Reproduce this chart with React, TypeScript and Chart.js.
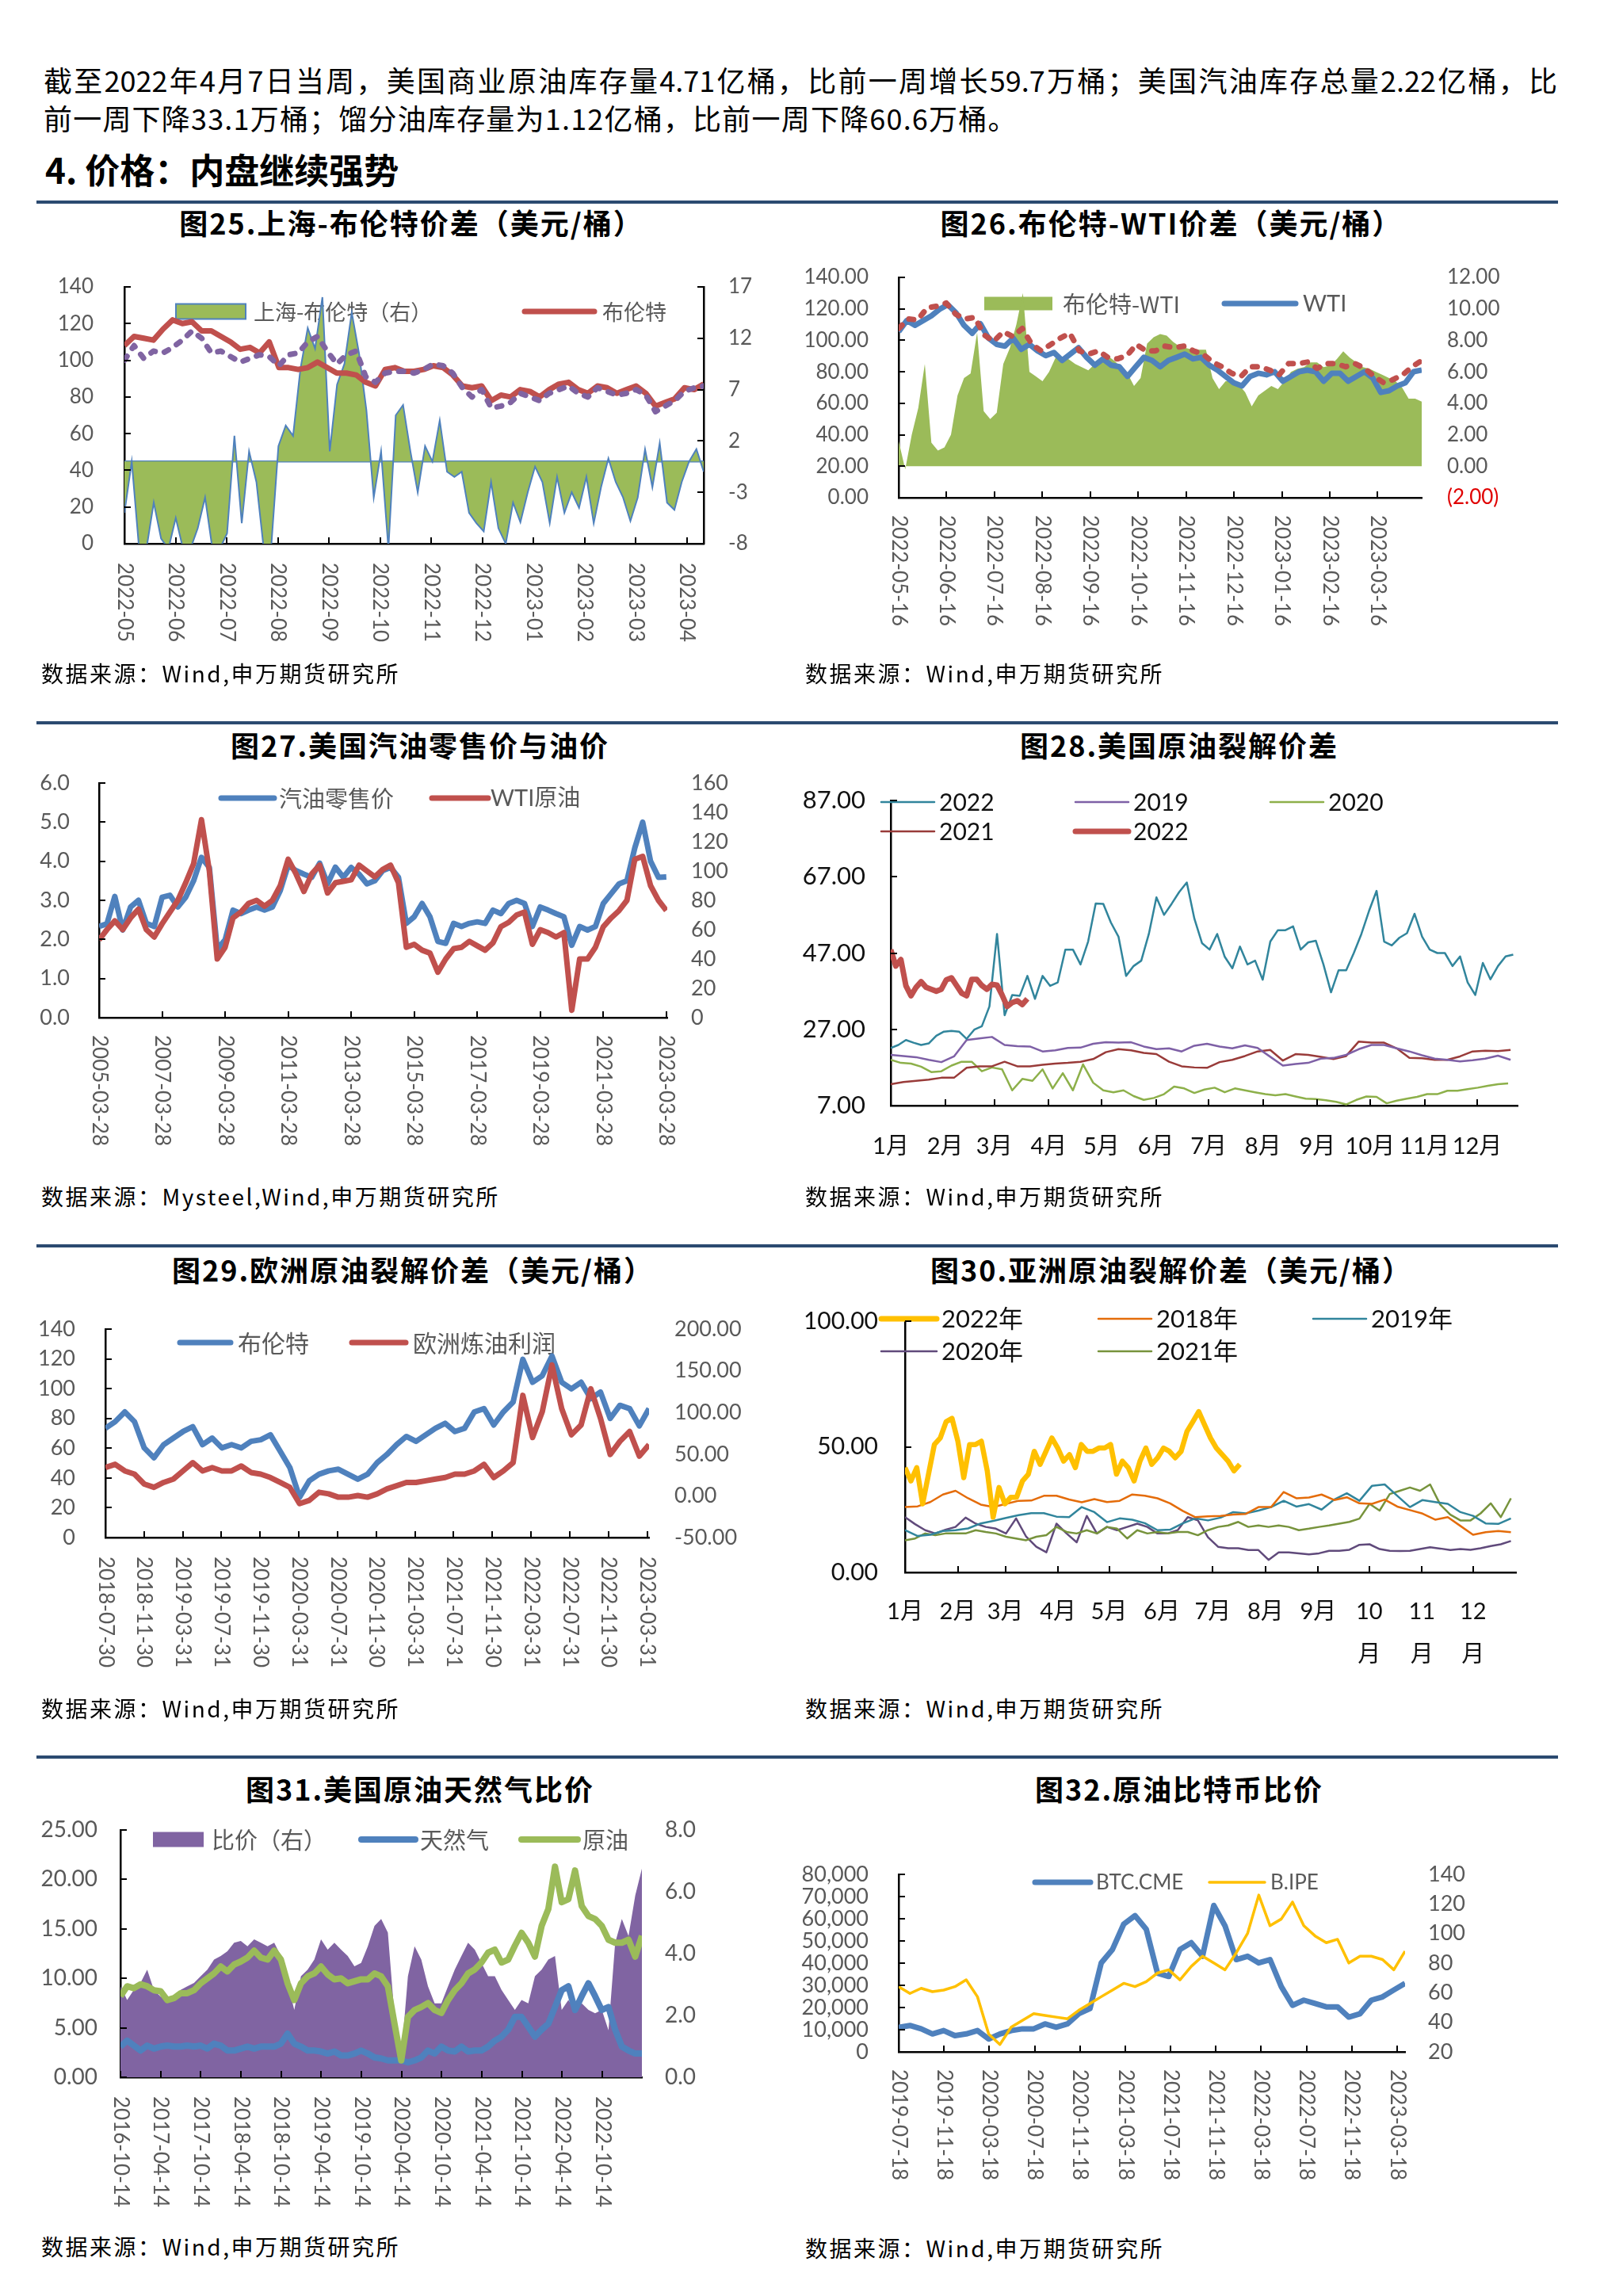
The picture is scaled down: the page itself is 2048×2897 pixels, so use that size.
import React, { useEffect, useRef } from "react";
import { Chart, registerables } from "chart.js";

Chart.register(...registerables);

const NUM = "Lato, 'Noto Sans CJK SC', sans-serif";
const CJK = "'Noto Sans CJK SC', Lato, sans-serif";

// ---------------- 图25 上海-布伦特价差 ----------------
const c25Ticks = [0, 1, 2, 3, 4, 5, 6, 7, 8, 9, 10, 11];
const c25Labels = ["2022-05", "2022-06", "2022-07", "2022-08", "2022-09", "2022-10", "2022-11", "2022-12", "2023-01", "2023-02", "2023-03", "2023-04"];
const c25Brent = [108, 113, 112, 111, 117, 122, 120, 121, 116, 116, 113, 110, 106, 107, 104, 110, 96, 96, 95, 96, 99, 96, 93, 93, 92, 88, 86, 95, 96, 94, 94, 95, 97, 96, 92, 86, 85, 86, 78, 81, 80, 84, 83, 80, 84, 87, 88, 84, 82, 86, 85, 82, 84, 86, 82, 75, 77, 79, 85, 84, 87];
const c25SC = [100, 108, 101, 105, 104, 107, 111, 116, 112, 104, 105, 102, 99, 101, 103, 102, 97, 103, 104, 110, 113, 105, 98, 103, 105, 91, 88, 93, 94, 94, 93, 95, 98, 97, 93, 85, 80, 84, 74, 75, 77, 82, 80, 78, 82, 84, 86, 82, 80, 85, 83, 81, 82, 84, 81, 72, 75, 78, 83, 85, 86];
const c25Spread = [-5, 0, -8.5, -8.5, -4, -7.5, -8.5, -5.5, -8.5, -8.5, -6.5, -3.5, -8.5, -8.5, -7, 2.5, -6, 1.0, -2, -8.5, -8.5, 1.5, 3.5, 2.5, 9, 13, 11, 16, 1, 7.5, 9.5, 14.5, 10.5, 5, -3.5, 1, -8.5, 4.5, 5.5, 1, -3, 1.5, 0, 4, -1, -1.5, -1, -5, -6, -6.8, -2, -6.5, -8, -4, -5.9, -3, -0.5, -2, -6, -1.5, -5, -3, -4.5, -1.5, -6, -2.5, 0.3, -2, -3.5, -5.8, -3.5, 1.2, -2.5, 1.8, -4, -4.7, -2, 0, 1.2, -1];

// ---------------- 图26 布伦特-WTI价差 ----------------
const c26Ticks = [0, 1, 2, 3, 4, 5, 6, 7, 8, 9, 10];
const c26Labels = ["2022-05-16", "2022-06-16", "2022-07-16", "2022-08-16", "2022-09-16", "2022-10-16", "2022-11-16", "2022-12-16", "2023-01-16", "2023-02-16", "2023-03-16"];
const c26WTI = [105.5, 112.6, 109.5, 112.6, 115.6, 119.7, 122.7, 117.6, 109.5, 104.5, 110.5, 101.4, 97.4, 96.3, 101.4, 94.3, 97.4, 93.3, 90.3, 92.3, 87.2, 91.3, 95.3, 89.2, 84.2, 88.2, 84.2, 83.2, 77.1, 83.2, 89.2, 87.2, 83.2, 87.2, 89.2, 91.3, 88.2, 89.2, 84.2, 81.1, 77.1, 73.0, 71.0, 77.1, 79.1, 78.1, 80.1, 74.0, 77.1, 80.1, 81.1, 80.1, 74.0, 79.1, 79.1, 74.0, 77.1, 80.1, 76.1, 66.9, 68.0, 71.0, 73.0, 80.1, 81.1];
const c26Brent = [107.5, 113.6, 113, 120.7, 121.7, 123.7, 116.6, 113.6, 114.6, 103.4, 99.4, 105.5, 102.4, 107.5, 97.4, 93.3, 97.4, 101.4, 104.5, 93.3, 91.3, 93.3, 89.2, 88.2, 90.3, 97.4, 93.3, 93.3, 96.3, 95.3, 96.3, 93.3, 91.3, 86.2, 83.2, 79.1, 77.1, 83.2, 83.2, 81.1, 78.1, 85.2, 85.2, 86.2, 82.2, 85.2, 85.2, 83.2, 85.2, 82.2, 77.1, 73.0, 75.1, 78.1, 83.2, 87.2];
const c26Spread = [1.6, -0.2, 2.0, 3.7, 6.5, 1.5, 1.0, 1.2, 2.0, 4.5, 5.6, 5.9, 8.5, 3.5, 3.0, 3.4, 6.5, 7.5, 9.0, 11.0, 6.0, 5.7, 5.4, 6.0, 6.9, 6.9, 6.8, 6.5, 6.3, 6.1, 6.5, 6.9, 7.0, 6.7, 6.3, 5.9, 5.1, 5.6, 7.8, 8.2, 8.4, 8.3, 7.9, 7.6, 7.5, 7.4, 7.4, 7.4, 5.6, 4.9, 5.4, 5.4, 5.2, 4.7, 3.8, 4.5, 4.8, 5.1, 4.9, 5.4, 6.0, 6.2, 6.3, 6.6, 6.6, 6.3, 6.4, 6.8, 7.3, 6.9, 6.6, 6.3, 6.2, 6.0, 5.8, 5.6, 5.4, 5.0, 4.3, 4.3, 4.1];

// ---------------- 图27 美国汽油零售价与油价 ----------------
const c27Ticks = [0, 2, 4, 6, 8, 10, 12, 14, 16, 18];
const c27Labels = ["2005-03-28", "2007-03-28", "2009-03-28", "2011-03-28", "2013-03-28", "2015-03-28", "2017-03-28", "2019-03-28", "2021-03-28", "2023-03-28"];
const c27Gas = [2.33, 2.4, 3.1, 2.24, 2.83, 3.0, 2.41, 2.33, 3.08, 3.13, 2.83, 3.08, 3.5, 4.1, 3.84, 1.75, 1.99, 2.75, 2.66, 2.75, 2.83, 2.75, 2.83, 3.25, 3.9, 3.76, 3.67, 3.59, 3.95, 3.42, 3.85, 3.59, 3.84, 3.67, 3.42, 3.5, 3.76, 3.84, 3.59, 2.41, 2.58, 2.92, 2.58, 1.95, 1.9, 2.41, 2.33, 2.41, 2.45, 2.41, 2.75, 2.66, 2.92, 3.0, 2.92, 2.33, 2.83, 2.75, 2.66, 2.58, 1.85, 2.33, 2.24, 2.33, 2.92, 3.17, 3.42, 3.5, 4.34, 5.0, 4.0, 3.59, 3.6];
const c27WTI = [53, 60, 66, 60, 68, 74, 60, 55, 64, 72, 80, 92, 105, 135, 100, 40, 48, 68, 72, 78, 80, 76, 80, 90, 108, 98, 86, 98, 104, 85, 92, 93, 94, 104, 100, 96, 101, 104, 92, 48, 50, 46, 44, 31, 40, 47, 48, 52, 49, 46, 51, 62, 65, 70, 72, 50, 60, 58, 55, 58, 5, 40, 40, 48, 62, 68, 73, 80, 108, 110, 90, 80, 73];

// ---------------- 图28 美国原油裂解价差 ----------------
const c28Ticks = [0, 31, 59, 90, 120, 151, 181, 212, 243, 273, 304, 334];
const c28Labels = ["1月", "2月", "3月", "4月", "5月", "6月", "7月", "8月", "9月", "10月", "11月", "12月"];
const c28Teal = [22.1, 22.9, 24.2, 23.5, 22.9, 23.3, 25.3, 26.4, 26.6, 26.4, 24.5, 26.9, 27.8, 33, 52, 30.7, 36, 35.8, 41, 35, 41, 38.4, 39.3, 47.9, 47.9, 44, 50, 60, 59.9, 55, 51.3, 41, 43.6, 45, 52, 61.6, 57, 59.9, 63, 65.5, 56, 49.6, 47.9, 52, 46, 43, 48.7, 44, 45, 40, 50, 53, 53, 54, 47.9, 49.8, 50.2, 44, 36.7, 42.5, 42.5, 47, 52, 58, 63.3, 50, 49, 51, 52.2, 57.3, 51.3, 47.9, 47.0, 47.0, 43.6, 46.1, 39.3, 36, 44.4, 40.1, 43.6, 46.1, 46.6];
const c28P2019 = [20.3, 20.0, 19.7, 19.0, 18.4, 19.9, 24.2, 24.6, 25.0, 22.9, 22.6, 22.5, 21.2, 21.5, 22.1, 22.2, 23.2, 23.6, 23.5, 23.6, 22.5, 21.8, 22.0, 21.2, 22.7, 23.2, 22.5, 22.0, 22.8, 22.1, 19.8, 17.5, 17.9, 18.2, 19.3, 19.5, 20.3, 21.8, 22.9, 22.9, 22.0, 21.2, 20.2, 19.3, 19.0, 18.6, 18.9, 19.3, 20.1, 19.0];
const c28G2020 = [19, 18.2, 18.0, 17.2, 15.8, 16.0, 17.5, 18.5, 18.5, 16, 17, 16.5, 11, 14, 13.5, 16.5, 11.5, 15.5, 11, 17.8, 13, 11, 10.5, 11, 9.5, 8.5, 9, 10, 12, 11.5, 10.3, 11.2, 11.7, 10.5, 11.5, 11, 10.5, 10, 9.7, 10, 9.4, 8.8, 8.7, 8.4, 8.0, 7.3, 8.5, 9.4, 9.3, 7.6, 8.3, 8.8, 9.3, 10, 10, 10.9, 10.9, 11.3, 11.7, 12.2, 12.6, 12.8];
const c28R2021 = [12.6, 13.2, 13.5, 13.8, 14.3, 14.3, 16.9, 17.3, 17.3, 18.5, 17.3, 17.3, 17.7, 18.0, 18.2, 18.5, 19.2, 21, 21.8, 21.5, 20.8, 20.5, 18.5, 17.3, 17, 16.9, 18.4, 19.0, 20.0, 21.2, 21.6, 18.8, 20.5, 20.3, 19.8, 19.2, 20, 23.8, 23.5, 23.5, 22, 19.5, 19.4, 19.0, 19.0, 19.9, 21.2, 21.4, 21.3, 21.6];
const c28Thick = [47.9, 43.6, 45.3, 38.4, 35.8, 38, 39.5, 38, 37.5, 37, 37.5, 40, 40.5, 38.5, 36.5, 35.8, 40.1, 40.1, 38.5, 37.5, 38.8, 38.6, 36, 33, 34, 34.5, 33.5, 35];

// ---------------- 图29 欧洲原油裂解价差 ----------------
const c29Ticks = [0, 4, 8, 12, 16, 20, 24, 28, 32, 36, 40, 44, 48, 52, 56];
const c29Labels = ["2018-07-30", "2018-11-30", "2019-03-31", "2019-07-31", "2019-11-30", "2020-03-31", "2020-07-31", "2020-11-30", "2021-03-31", "2021-07-31", "2021-11-30", "2022-03-31", "2022-07-31", "2022-11-30", "2023-03-31"];
const c29Brent = [73.4, 77.8, 84.4, 77.8, 60.2, 53.6, 62.4, 66.8, 71.2, 74.5, 62.4, 66.8, 60.2, 62.4, 60.2, 64.6, 65.7, 69.0, 58.0, 47.0, 27.1, 38.1, 42.5, 44.8, 45.9, 42.5, 39.2, 42.5, 50.3, 55.8, 62.4, 67.9, 64.6, 69.0, 73.4, 76.7, 71.2, 73.4, 84.4, 86.6, 75.6, 84.4, 91.0, 119.7, 104.3, 108.7, 121.9, 104.3, 99.9, 104.3, 93.3, 97.7, 80.0, 88.8, 86.6, 75, 86.6];
const c29Margin = [33.9, 37.8, 29.9, 26.0, 14.2, 10.2, 16.1, 20.1, 29.9, 39.8, 29.9, 33.9, 29.9, 29.9, 35.8, 28.0, 26.0, 22.0, 16.1, 10.2, -9.4, -5.5, 4.3, 2.4, -1.6, -1.6, 0.4, -1.6, 2.4, 8.3, 12.2, 16.1, 16.1, 18.1, 20.1, 22.0, 26.0, 26.0, 29.9, 37.8, 22.0, 29.9, 39.8, 120.5, 70, 100.8, 157, 104.7, 73.2, 85.0, 128.3, 92.9, 49.6, 65.4, 77.2, 47.6, 61.4];

// ---------------- 图30 亚洲原油裂解价差 ----------------
const c30Ticks = [0, 31, 59, 90, 120, 151, 181, 212, 243, 273, 304, 334];
const c30Labels = ["1月", "2月", "3月", "4月", "5月", "6月", "7月", "8月", "9月", "10\n月", "11\n月", "12\n月"];
const c30Y2022 = [41.7, 36.4, 41.7, 27.3, 39.1, 50.9, 53.5, 60.0, 61.3, 52.2, 37.7, 50.9, 50.9, 52.2, 40.4, 22.0, 33.8, 27.3, 29.9, 29.9, 36.4, 39.1, 48.2, 43.0, 48.2, 53.5, 49.5, 44.3, 46.9, 41.7, 50.9, 48.2, 48.2, 49.5, 49.5, 50.9, 39.1, 44.3, 41.7, 36.4, 44.3, 49.5, 43.0, 45.6, 49.5, 48.2, 45.6, 48.2, 56.1, 60.0, 64.0, 58.7, 53.5, 49.5, 46.9, 44.3, 40.4, 43.0];
const c30Y2018 = [26, 26.3, 28, 31, 32.5, 29.5, 27, 26, 27.3, 28.5, 28.6, 30.5, 30.5, 29, 27.9, 29.2, 28, 28.5, 31, 30.5, 29.5, 27.5, 24.5, 22, 22.3, 22.5, 23, 23.3, 26, 26, 32, 29.5, 29.8, 31, 28.8, 29.9, 27.5, 27.3, 29, 26.2, 24.8, 23.4, 21, 22, 18.5, 15, 16, 16.5, 16];
const c30Y2019 = [16.8, 14.5, 15, 16.5, 16.8, 17.5, 19.5, 20.5, 21.7, 22.8, 23.6, 23.6, 22.2, 22, 26, 24, 20, 21.5, 21, 19.6, 16.8, 17, 19.5, 21.5, 20.7, 21.8, 24, 23.5, 24.6, 26, 28.5, 26.2, 27.2, 25, 29, 31.5, 28.5, 34.5, 35, 30.5, 26, 28.8, 28, 27.3, 24, 22.5, 19.5, 19.3, 21.5];
const c30Y2020 = [22, 19.2, 16.8, 15.5, 17, 18.1, 21.8, 19.4, 18.1, 17.4, 15.5, 21.5, 14.2, 10.2, 8, 19.4, 15.5, 12, 22.5, 15.5, 18.1, 16.8, 18.1, 19.4, 18.1, 15.5, 15.5, 16.8, 22, 20.7, 14, 10.2, 9.6, 9.6, 8.9, 8.9, 5, 8, 8, 7.6, 7.2, 7.6, 8.6, 8.6, 9, 11, 11.2, 9.3, 8.6, 8.5, 8.6, 9.3, 10, 9.5, 8.9, 9.3, 9, 9.6, 10.5, 11.2, 12.5];
const c30Y2021 = [12.8, 13.5, 15.5, 14.8, 15.5, 15.5, 15.5, 16.8, 16.1, 15.5, 14.2, 13.5, 12.8, 14.2, 14.8, 18.1, 16.1, 15.5, 16.8, 15.5, 18.1, 17.4, 13.5, 16.8, 15.5, 16.1, 15.5, 16.1, 16.1, 14.8, 16.8, 18.1, 18.7, 20.1, 18.1, 18.7, 18.1, 18.7, 18.1, 16.8, 17.4, 18.1, 18.7, 19.4, 20.1, 21.4, 27.3, 24.6, 31.2, 32.5, 33.8, 32.5, 35, 27, 23, 20.7, 20.7, 23.5, 27.5, 22, 29.5];

// ---------------- 图31 美国原油天然气比价 ----------------
const c31Ticks = [0, 6, 12, 18, 24, 30, 36, 42, 48, 54, 60, 66, 72];
const c31Labels = ["2016-10-14", "2017-04-14", "2017-10-14", "2018-04-14", "2018-10-14", "2019-04-14", "2019-10-14", "2020-04-14", "2020-10-14", "2021-04-14", "2021-10-14", "2022-04-14", "2022-10-14"];
const c31Ratio = [2.94, 2.50, 2.83, 3.05, 3.48, 2.83, 2.61, 2.50, 2.61, 2.83, 2.94, 3.05, 3.27, 3.48, 3.81, 3.92, 4.08, 4.35, 4.41, 4.24, 4.46, 4.35, 4.24, 4.35, 3.92, 3.05, 2.18, 3.27, 3.48, 3.81, 4.46, 4.13, 4.35, 4.13, 3.92, 3.59, 3.70, 4.24, 4.90, 5.12, 4.68, 1.96, 0.65, 3.27, 4.24, 3.81, 2.94, 2.39, 2.39, 2.94, 3.48, 3.92, 4.35, 4.13, 3.70, 3.27, 3.27, 2.83, 2.50, 2.18, 2.50, 2.39, 3.27, 3.48, 3.81, 3.92, 2.18, 2.50, 2.18, 2.39, 2.18, 2.07, 2.18, 1.52, 4.35, 5.12, 4.57, 5.88, 6.75];
const c31Gas = [3.1, 3.7, 3.2, 2.7, 3.2, 2.9, 3.1, 3.2, 3.1, 3.1, 3.2, 3.1, 3.2, 2.9, 3.4, 3.2, 2.7, 2.7, 2.9, 3.1, 2.9, 3.1, 3.1, 3.1, 3.4, 4.4, 3.4, 3.1, 2.7, 2.7, 2.6, 2.4, 2.6, 2.2, 2.2, 2.4, 2.7, 2.4, 2.0, 1.9, 1.7, 1.7, 1.7, 1.5, 1.7, 2.0, 2.7, 2.4, 3.1, 2.7, 2.6, 3.1, 2.6, 2.7, 2.7, 3.1, 3.7, 4.1, 4.8, 6.1, 6.1, 5.1, 4.1, 4.8, 5.4, 7.1, 8.8, 9.2, 6.8, 8.2, 9.5, 8.2, 6.8, 7.1, 4.8, 3.1, 2.7, 2.4, 2.4];
const c31Crude = [8.2, 9.2, 9.0, 9.4, 9.2, 8.8, 8.7, 7.8, 8.0, 8.5, 8.5, 8.8, 9.5, 10.0, 10.5, 11.2, 10.7, 11.4, 11.7, 12.1, 12.8, 12.1, 11.9, 12.8, 11.9, 9.5, 7.8, 9.5, 10.2, 10.5, 11.2, 10.4, 9.9, 10.0, 9.5, 9.7, 9.9, 9.9, 10.5, 10.2, 9.2, 5.4, 1.7, 6.1, 6.8, 7.1, 7.5, 6.8, 6.5, 7.8, 8.8, 9.5, 10.5, 10.9, 11.6, 12.6, 12.9, 11.6, 11.9, 13.3, 14.6, 13.6, 12.2, 15.3, 17.0, 21.3, 17.7, 18.0, 20.9, 17.3, 16.3, 16.0, 15.3, 13.9, 13.6, 13.6, 13.9, 12.2, 14.3];

// ---------------- 图32 原油比特币比价 ----------------
const c32Ticks = [0, 4, 8, 12, 16, 20, 24, 28, 32, 36, 40, 44];
const c32Labels = ["2019-07-18", "2019-11-18", "2020-03-18", "2020-07-18", "2020-11-18", "2021-03-18", "2021-07-18", "2021-11-18", "2022-03-18", "2022-07-18", "2022-11-18", "2023-03-18"];
const c32BTC = [11100, 11900, 10400, 8100, 9600, 7300, 8100, 9600, 5800, 8100, 9600, 10400, 10400, 12600, 11100, 12600, 17200, 19500, 40100, 46200, 57600, 61400, 55300, 35500, 34000, 46200, 49200, 43100, 66000, 56800, 41600, 43100, 40100, 41600, 29400, 21000, 23300, 21800, 20300, 20300, 15700, 17200, 23300, 24800, 27900, 30900];
const c32Brent = [64.1, 59.5, 63.0, 60.7, 61.8, 64.1, 68.7, 57.3, 32.1, 25, 36.7, 41.3, 45.8, 44.7, 43.5, 42.4, 48.1, 52.7, 57.3, 61.8, 66.4, 64.1, 67.5, 73.3, 75.5, 68.7, 77.8, 84.7, 80.1, 75.5, 87.0, 100, 126, 105.3, 109.8, 121.3, 105.3, 98.4, 93.8, 96.1, 80.1, 84.7, 84.7, 82.4, 75.5, 88.1];

// ---------------- helpers ----------------
function pts(ys: number[], x0: number, x1: number) {
  const n = ys.length - 1;
  return ys.map((y, i) => ({ x: x0 + ((x1 - x0) * i) / n, y }));
}
function ln(data: any[], color: string, width: number, yAxisID = "y", extra: any = {}) {
  return { data, borderColor: color, borderWidth: width, yAxisID, pointRadius: 0, fill: false, tension: 0, borderJoinStyle: "round", ...extra };
}
const dash = { borderDash: [6, 12], borderCapStyle: "round" };
const f0 = (v: number) => String(v);
const f1 = (v: number) => v.toFixed(1);
const f2 = (v: number) => v.toFixed(2);
const GRAY = "#595959";
const TOP_SPACE = 70; // canvas space above the plot area

type YSpec = { position: "left" | "right"; min: number; max: number; step: number; pad: number; font: number; color: any; line: boolean; fmt: (v: number) => string };
type Leg = { kind: "line" | "box"; x: number; y: number; w: number; h?: number; lw?: number; color: string; border?: string; tx: number; text: string };
type Spec = {
  id: string; title: string; tx: number; ty: number; src: string; sx: number; sy: number;
  cv: number[]; pl: number[];
  xMax: number; xTicks: number[]; xLabels: string[]; rot: boolean; xGap: number; xLineH: number; xFont: number; xColor: string;
  ys: Record<string, YSpec>; inner: string[];
  legend: Leg[]; legFont: number; legColor: string;
  base?: { axis: string; value: number; color: string; width: number }[];
  datasets: any[];
};

const SRC = "数据来源：Wind,申万期货研究所";

const SPECS: Spec[] = [
  {
    id: "25", title: "图25.上海-布伦特价差（美元/桶）", tx: 519, ty: 280, src: SRC, sx: 52, sy: 849,
    cv: [40, 0, 975, 840], pl: [157, 362, 888, 686],
    xMax: 11.33, xTicks: c25Ticks, xLabels: c25Labels, rot: true, xGap: 24, xLineH: 0, xFont: 26, xColor: GRAY,
    ys: {
      y: { position: "left", min: 0, max: 140, step: 20, pad: 39, font: 26, color: GRAY, line: true, fmt: f0 },
      y1: { position: "right", min: -8, max: 17, step: 5, pad: 31, font: 26, color: GRAY, line: true, fmt: f0 },
    },
    inner: ["y", "y1"],
    legend: [
      { kind: "box", x: 222, y: 393, w: 88, h: 19, color: "#9BBB59", border: "#4F81BD", tx: 320, text: "上海-布伦特（右）" },
      { kind: "line", x: 662, y: 393, w: 88, lw: 7, color: "#C0504D", tx: 760, text: "布伦特" },
    ],
    legFont: 27, legColor: GRAY,
    base: [{ axis: "y1", value: 0, color: "#4F81BD", width: 2.5 }],
    datasets: [
      ln(pts(c25SC, 0, 11.33), "#8064A2", 7, "y", dash),
      ln(pts(c25Brent, 0, 11.33), "#C0504D", 7, "y"),
      { data: pts(c25Spread, 0, 11.33), yAxisID: "y1", fill: "origin", backgroundColor: "#9BBB59", borderColor: "#4F81BD", borderWidth: 2, pointRadius: 0, tension: 0 },
    ],
  },
  {
    id: "26", title: "图26.布伦特-WTI价差（美元/桶）", tx: 1478, ty: 280, src: SRC, sx: 1016, sy: 849,
    cv: [1000, 0, 1940, 840], pl: [1134, 350, 1794, 628],
    xMax: 10.92, xTicks: c26Ticks, xLabels: c26Labels, rot: true, xGap: 22, xLineH: 0, xFont: 26, xColor: GRAY,
    ys: {
      y: { position: "left", min: 0, max: 140, step: 20, pad: 38, font: 26, color: GRAY, line: true, fmt: f2 },
      y1: {
        position: "right", min: -2, max: 12, step: 2, pad: 32, font: 26,
        color: (c: any) => (c.tick && c.tick.value < 0 ? "#E00000" : GRAY), line: false,
        fmt: (v: number) => (v < 0 ? `(${(-v).toFixed(2)})` : v.toFixed(2)),
      },
    },
    inner: ["y"],
    legend: [
      { kind: "box", x: 1242, y: 383, w: 86, h: 17, color: "#9BBB59", tx: 1341, text: "布伦特-WTI" },
      { kind: "line", x: 1545, y: 383, w: 90, lw: 7, color: "#4F81BD", tx: 1644, text: "WTI" },
    ],
    legFont: 29, legColor: GRAY,
    datasets: [
      ln(pts(c26Brent, 0, 10.92), "#C0504D", 7, "y", dash),
      ln(pts(c26WTI, 0, 10.92), "#4F81BD", 7, "y"),
      { data: pts(c26Spread, 0, 10.92), yAxisID: "y1", fill: "origin", backgroundColor: "#9BBB59", borderWidth: 0, pointRadius: 0, tension: 0 },
    ],
  },
  {
    id: "27", title: "图27.美国汽油零售价与油价", tx: 530, ty: 939, src: "数据来源：Mysteel,Wind,申万期货研究所", sx: 52, sy: 1509,
    cv: [40, 0, 975, 1480], pl: [125, 988, 842, 1284],
    xMax: 18.03, xTicks: c27Ticks, xLabels: c27Labels, rot: true, xGap: 22, xLineH: 0, xFont: 26, xColor: GRAY,
    ys: {
      y: { position: "left", min: 0, max: 6, step: 1, pad: 37, font: 27, color: GRAY, line: true, fmt: f1 },
      y1: { position: "right", min: 0, max: 160, step: 20, pad: 30, font: 27, color: GRAY, line: false, fmt: f0 },
    },
    inner: ["y"],
    legend: [
      { kind: "line", x: 279, y: 1007, w: 67, lw: 7, color: "#4F81BD", tx: 352, text: "汽油零售价" },
      { kind: "line", x: 545, y: 1007, w: 71, lw: 7, color: "#C0504D", tx: 619, text: "WTI原油" },
    ],
    legFont: 29, legColor: GRAY,
    datasets: [
      ln(pts(c27WTI, 0, 18), "#C0504D", 7, "y1"),
      ln(pts(c27Gas, 0, 18), "#4F81BD", 7, "y"),
    ],
  },
  {
    id: "28", title: "图28.美国原油裂解价差", tx: 1488, ty: 939, src: SRC, sx: 1016, sy: 1509,
    cv: [1000, 0, 1945, 1490], pl: [1124, 1010, 1915, 1395],
    xMax: 357, xTicks: c28Ticks, xLabels: c28Labels, rot: false, xGap: 52, xLineH: 0, xFont: 29, xColor: "#111",
    ys: {
      y: { position: "left", min: 7, max: 87, step: 20, pad: 32, font: 31, color: "#111", line: true, fmt: f2 },
    },
    inner: ["y"],
    legend: [
      { kind: "line", x: 1112, y: 1012, w: 67, lw: 2.5, color: "#31859C", tx: 1185, text: "2022" },
      { kind: "line", x: 1357, y: 1012, w: 67, lw: 2.5, color: "#7E60A6", tx: 1430, text: "2019" },
      { kind: "line", x: 1603, y: 1012, w: 67, lw: 2.5, color: "#8DB04A", tx: 1676, text: "2020" },
      { kind: "line", x: 1112, y: 1049, w: 67, lw: 2.5, color: "#993B39", tx: 1185, text: "2021" },
      { kind: "line", x: 1357, y: 1049, w: 67, lw: 7, color: "#C0504D", tx: 1430, text: "2022" },
    ],
    legFont: 30, legColor: "#111",
    datasets: [
      ln(pts(c28Thick, 0, 77.8), "#C0504D", 7),
      ln(pts(c28Teal, 0, 354.5), "#31859C", 2.5),
      ln(pts(c28P2019, 0, 353), "#7E60A6", 2.5),
      ln(pts(c28R2021, 0, 353), "#993B39", 2.5),
      ln(pts(c28G2020, 0, 351.6), "#8DB04A", 2.5),
    ],
  },
  {
    id: "29", title: "图29.欧洲原油裂解价差（美元/桶）", tx: 521, ty: 1601, src: SRC, sx: 52, sy: 2155,
    cv: [40, 0, 975, 2140], pl: [133, 1677, 819, 1940],
    xMax: 56.2, xTicks: c29Ticks, xLabels: c29Labels, rot: true, xGap: 24, xLineH: 0, xFont: 26, xColor: GRAY,
    ys: {
      y: { position: "left", min: 0, max: 140, step: 20, pad: 38, font: 27, color: GRAY, line: true, fmt: f0 },
      y1: { position: "right", min: -50, max: 200, step: 50, pad: 32, font: 27, color: GRAY, line: false, fmt: f2 },
    },
    inner: ["y"],
    legend: [
      { kind: "line", x: 227, y: 1694, w: 64, lw: 7, color: "#4F81BD", tx: 300, text: "布伦特" },
      { kind: "line", x: 444, y: 1694, w: 68, lw: 7, color: "#C0504D", tx: 521, text: "欧洲炼油利润" },
    ],
    legFont: 30, legColor: GRAY,
    datasets: [
      ln(pts(c29Margin, 0, 56.2), "#C0504D", 7, "y1"),
      ln(pts(c29Brent, 0, 56.2), "#4F81BD", 7, "y"),
    ],
  },
  {
    id: "30", title: "图30.亚洲原油裂解价差（美元/桶）", tx: 1478, ty: 1601, src: SRC, sx: 1016, sy: 2155,
    cv: [1000, 0, 1945, 2135], pl: [1142, 1667, 1913, 1984],
    xMax: 359.3, xTicks: c30Ticks, xLabels: c30Labels, rot: false, xGap: 50, xLineH: 54, xFont: 29, xColor: "#111",
    ys: {
      y: { position: "left", min: 0, max: 100, step: 50, pad: 34, font: 30, color: "#111", line: true, fmt: f2 },
    },
    inner: ["y"],
    legend: [
      { kind: "line", x: 1112, y: 1664, w: 70, lw: 7, color: "#FFC000", tx: 1188, text: "2022年" },
      { kind: "line", x: 1386, y: 1664, w: 67, lw: 2.5, color: "#E46C0A", tx: 1459, text: "2018年" },
      { kind: "line", x: 1657, y: 1664, w: 67, lw: 2.5, color: "#31859C", tx: 1730, text: "2019年" },
      { kind: "line", x: 1112, y: 1705, w: 70, lw: 2.5, color: "#604A7B", tx: 1188, text: "2020年" },
      { kind: "line", x: 1386, y: 1705, w: 67, lw: 2.5, color: "#77933C", tx: 1459, text: "2021年" },
    ],
    legFont: 31, legColor: "#111",
    datasets: [
      ln(pts(c30Y2022, 0, 196.9), "#FFC000", 6.5),
      ln(pts(c30Y2018, 0, 356.3), "#E46C0A", 2.5),
      ln(pts(c30Y2019, 0, 356.3), "#31859C", 2.5),
      ln(pts(c30Y2021, 0, 356.3), "#77933C", 2.5),
      ln(pts(c30Y2020, 0, 356.3), "#604A7B", 2.5),
    ],
  },
  {
    id: "31", title: "图31.美国原油天然气比价", tx: 530, ty: 2256, src: SRC, sx: 52, sy: 2834,
    cv: [40, 0, 975, 2810], pl: [152, 2309, 810, 2621],
    xMax: 77.9, xTicks: c31Ticks, xLabels: c31Labels, rot: true, xGap: 24, xLineH: 0, xFont: 26, xColor: GRAY,
    ys: {
      y: { position: "left", min: 0, max: 25, step: 5, pad: 29, font: 28, color: GRAY, line: true, fmt: f2 },
      y1: { position: "right", min: 0, max: 8, step: 2, pad: 29, font: 28, color: GRAY, line: false, fmt: f1 },
    },
    inner: ["y"],
    legend: [
      { kind: "box", x: 193, y: 2321, w: 64, h: 19, color: "#8064A2", tx: 267, text: "比价（右）" },
      { kind: "line", x: 456, y: 2321, w: 68, lw: 8, color: "#4F81BD", tx: 530, text: "天然气" },
      { kind: "line", x: 658, y: 2321, w: 71, lw: 8, color: "#9BBB59", tx: 735, text: "原油" },
    ],
    legFont: 29, legColor: GRAY,
    datasets: [
      ln(pts(c31Crude, 0, 77.9), "#9BBB59", 8, "y"),
      ln(pts(c31Gas, 0, 77.9), "#4F81BD", 8, "y"),
      { data: pts(c31Ratio, 0, 77.9), yAxisID: "y1", fill: "origin", backgroundColor: "#8064A2", borderWidth: 0, pointRadius: 0, tension: 0 },
    ],
  },
  {
    id: "32", title: "图32.原油比特币比价", tx: 1488, ty: 2256, src: SRC, sx: 1016, sy: 2836,
    cv: [1000, 0, 1940, 2790], pl: [1134, 2365, 1773, 2589],
    xMax: 44.7, xTicks: c32Ticks, xLabels: c32Labels, rot: true, xGap: 22, xLineH: 0, xFont: 26, xColor: GRAY,
    ys: {
      y: { position: "left", min: 0, max: 80000, step: 10000, pad: 38, font: 27, color: GRAY, line: true, fmt: (v: number) => v.toLocaleString("en-US") },
      y1: { position: "right", min: 20, max: 140, step: 20, pad: 29, font: 27, color: GRAY, line: false, fmt: f0 },
    },
    inner: ["y"],
    legend: [
      { kind: "line", x: 1306, y: 2375, w: 70, lw: 7, color: "#4F81BD", tx: 1383, text: "BTC.CME" },
      { kind: "line", x: 1526, y: 2375, w: 70, lw: 3.5, color: "#FFC000", tx: 1603, text: "B.IPE" },
    ],
    legFont: 26, legColor: GRAY,
    datasets: [
      ln(pts(c32Brent, 0, 44.7), "#FFC000", 3.5, "y1"),
      ln(pts(c32BTC, 0, 44.7), "#4F81BD", 7, "y"),
    ],
  },
];

function makePlugin(s: Spec, cl: number, ct: number) {
  return {
    id: "xl" + s.id,
    beforeDatasetsDraw(chart: any) {
      const ctx = chart.ctx;
      const a = chart.chartArea;
      ctx.save();
      for (const b of s.base || []) {
        const py = chart.scales[b.axis].getPixelForValue(b.value);
        ctx.strokeStyle = b.color;
        ctx.lineWidth = b.width;
        ctx.beginPath();
        ctx.moveTo(a.left, py);
        ctx.lineTo(a.right, py);
        ctx.stroke();
      }
      ctx.textBaseline = "middle";
      ctx.textAlign = "left";
      for (const it of s.legend) {
        const x = it.x - cl;
        const y = it.y - ct;
        if (it.kind === "box") {
          const h = it.h || 18;
          ctx.fillStyle = it.color;
          ctx.fillRect(x, y - h / 2, it.w, h);
          if (it.border) {
            ctx.strokeStyle = it.border;
            ctx.lineWidth = 2;
            ctx.strokeRect(x, y - h / 2, it.w, h);
          }
        } else {
          ctx.strokeStyle = it.color;
          ctx.lineWidth = it.lw || 3;
          ctx.lineCap = "round";
          ctx.beginPath();
          ctx.moveTo(x, y);
          ctx.lineTo(x + it.w, y);
          ctx.stroke();
        }
        ctx.fillStyle = s.legColor;
        ctx.font = `${s.legFont}px ${/[0-9A-Z]/.test(it.text[0]) ? NUM : CJK}`;
        ctx.fillText(it.text, it.tx - cl, y + 1);
      }
      ctx.restore();
    },
    afterDatasetsDraw(chart: any) {
      const ctx = chart.ctx;
      const a = chart.chartArea;
      const xs = chart.scales.x;
      ctx.save();
      ctx.strokeStyle = "#000";
      ctx.lineWidth = 2;
      ctx.lineCap = "butt";
      ctx.beginPath();
      for (const v of s.xTicks) {
        const px = Math.round(xs.getPixelForValue(v));
        ctx.moveTo(px, a.bottom);
        ctx.lineTo(px, a.bottom - 8);
      }
      for (const id of s.inner) {
        const sc = chart.scales[id];
        for (const t of sc.ticks) {
          const py = Math.round(sc.getPixelForValue(t.value));
          if (sc.position === "left") {
            ctx.moveTo(a.left, py);
            ctx.lineTo(a.left + 8, py);
          } else {
            ctx.moveTo(a.right, py);
            ctx.lineTo(a.right - 8, py);
          }
        }
      }
      ctx.stroke();
      ctx.fillStyle = s.xColor;
      ctx.font = `${s.xFont}px ${NUM}`;
      s.xTicks.forEach((v, i) => {
        const px = xs.getPixelForValue(v);
        const label = s.xLabels[i];
        if (s.rot) {
          ctx.save();
          ctx.translate(px, a.bottom + s.xGap);
          ctx.rotate(Math.PI / 2);
          ctx.textAlign = "left";
          ctx.textBaseline = "middle";
          ctx.fillText(label, 0, 0);
          ctx.restore();
        } else {
          ctx.textAlign = "center";
          ctx.textBaseline = "middle";
          label.split("\n").forEach((l, j) => ctx.fillText(l, px, a.bottom + s.xGap + j * s.xLineH));
        }
      });
      ctx.restore();
    },
  };
}

function ChartPanel({ s }: { s: Spec }) {
  const ref = useRef<HTMLCanvasElement>(null);
  const [pl, pt, pr, pb] = s.pl;
  const cl = s.cv[0];
  const cr = s.cv[2];
  const cb = s.cv[3];
  const ct = pt - TOP_SPACE;
  useEffect(() => {
    const scales: any = {
      x: {
        type: "linear",
        min: 0,
        max: s.xMax,
        grid: { display: false, drawTicks: false },
        border: { display: true, color: "#000", width: 2.5 },
        ticks: { display: false },
        afterFit: (sc: any) => {
          sc.height = cb - pb;
        },
      },
    };
    let hasRight = false;
    for (const id of Object.keys(s.ys)) {
      const y = s.ys[id];
      const left = y.position === "left";
      if (!left) hasRight = true;
      scales[id] = {
        type: "linear",
        position: y.position,
        min: y.min,
        max: y.max,
        grid: { display: false, drawTicks: false },
        border: { display: y.line, color: "#000", width: 2.5 },
        ticks: {
          stepSize: y.step,
          autoSkip: false,
          padding: y.pad,
          color: y.color,
          font: { size: y.font, family: NUM },
          callback: (v: any) => y.fmt(Number(v)),
        },
        afterFit: (sc: any) => {
          sc.width = left ? pl - cl : cr - pr;
        },
      };
    }
    const chart = new Chart(ref.current as HTMLCanvasElement, {
      type: "line",
      data: { datasets: s.datasets },
      options: {
        responsive: false,
        maintainAspectRatio: false,
        animation: false,
        devicePixelRatio: 1,
        events: [],
        layout: { padding: { top: pt - ct, right: hasRight ? 0 : cr - pr, left: 0, bottom: 0 } },
        plugins: { legend: { display: false }, tooltip: { enabled: false }, title: { display: false } },
        scales,
        elements: { point: { radius: 0 }, line: { tension: 0 } },
      } as any,
      plugins: [makePlugin(s, cl, ct) as any],
    });
    return () => chart.destroy();
  }, []);
  return (
    <>
      <div
        style={{
          position: "absolute", left: s.tx - 480, top: s.ty - 26, width: 960, height: 52, lineHeight: "52px",
          textAlign: "center", fontSize: 36, fontWeight: 700, letterSpacing: 2, color: "#000", whiteSpace: "nowrap",
        }}
      >
        {s.title}
      </div>
      <canvas
        ref={ref}
        width={cr - cl}
        height={cb - ct}
        style={{ position: "absolute", left: cl, top: ct, width: cr - cl, height: cb - ct }}
      />
      <div
        style={{
          position: "absolute", left: s.sx, top: s.sy - 20, height: 40, lineHeight: "40px", fontSize: 28,
          letterSpacing: 2.5, color: "#000", whiteSpace: "nowrap",
        }}
      >
        {s.src}
      </div>
    </>
  );
}

const HEAD1 = "截至2022年4月7日当周，美国商业原油库存量4.71亿桶，比前一周增长59.7万桶；美国汽油库存总量2.22亿桶，比";
const HEAD2 = "前一周下降33.1万桶；馏分油库存量为1.12亿桶，比前一周下降60.6万桶。";
const SECTION = "4. 价格：内盘继续强势";
const RULES = [255, 912, 1572, 2217];

export default function App() {
  useEffect(() => {
    document.body.style.margin = "0";
  }, []);
  return (
    <div
      style={{
        position: "absolute", left: 0, top: 0, width: 2048, height: 2897, background: "#fff", overflow: "hidden",
        fontFamily: "'Noto Sans CJK SC', sans-serif", color: "#000",
      }}
    >
      <div style={{ position: "absolute", left: 55, top: 76, width: 1910, fontSize: 36, lineHeight: "48px" }}>
        <div style={{ textAlign: "justify", textAlignLast: "justify" } as any}>{HEAD1}</div>
        <div style={{ letterSpacing: 1.2, whiteSpace: "nowrap" }}>{HEAD2}</div>
      </div>
      <div style={{ position: "absolute", left: 57, top: 183, fontSize: 44, fontWeight: 700, lineHeight: "60px", whiteSpace: "nowrap" }}>
        {SECTION}
      </div>
      {RULES.map((y) => (
        <div key={y} style={{ position: "absolute", left: 46, top: y - 2, width: 1920, height: 4, background: "#2B4A70" }} />
      ))}
      {SPECS.map((s) => (
        <ChartPanel key={s.id} s={s} />
      ))}
    </div>
  );
}
